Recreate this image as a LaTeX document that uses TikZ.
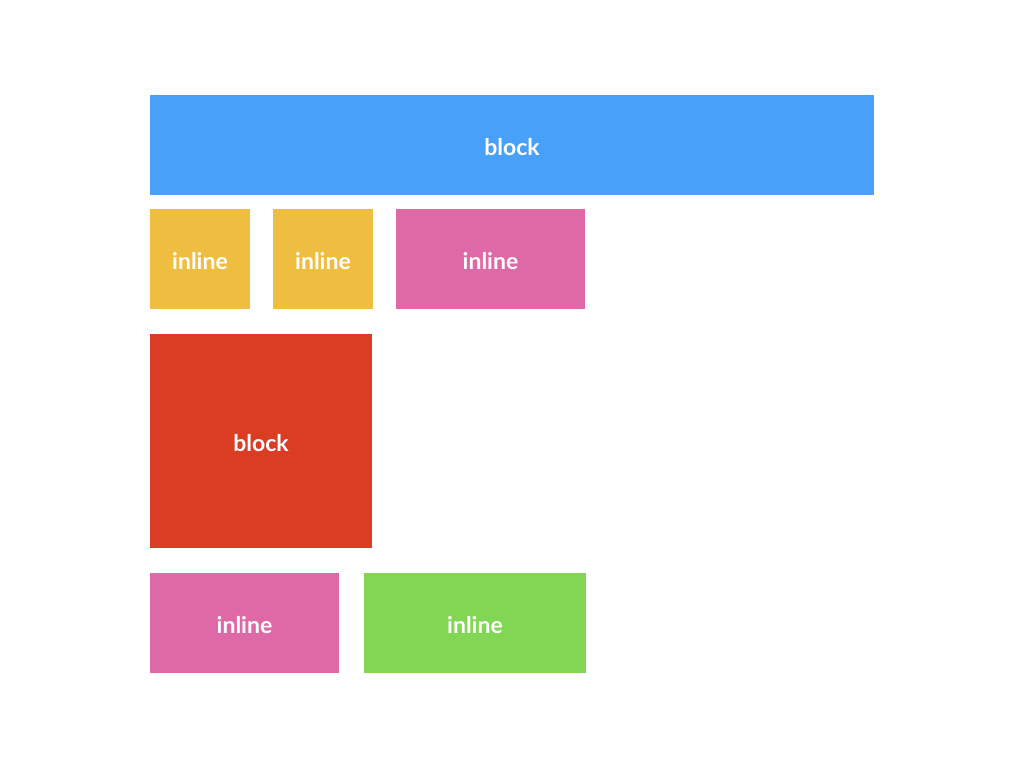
\documentclass[tikz,border=0pt]{standalone}
\usepackage{fontspec}
\setmainfont{Lato}
\definecolor{cblue}{HTML}{48A0F8}
\definecolor{cyellow}{HTML}{EFBD40}
\definecolor{cpink}{HTML}{DF68A6}
\definecolor{cred}{HTML}{DA3C24}
\definecolor{cgreen}{HTML}{81D653}
\begin{document}
\begin{tikzpicture}[x=1pt,y=-1pt,
  boxlbl/.style={text=white,font=\fontsize{23}{27}\selectfont\bfseries}]
\useasboundingbox (0,0) rectangle (1024,768);
\fill[cblue] (150,95) rectangle (874,195);
\node[boxlbl] (b1) at (512,147) {block};
\fill[cyellow] (150,209) rectangle (250,309);
\node[boxlbl] (i1) at (200,261) {inline};
\fill[cyellow] (273,209) rectangle (373,309);
\node[boxlbl] (i2) at (323,261) {inline};
\fill[cpink] (396,209) rectangle (585,309);
\node[boxlbl] (i3) at (490.5,261) {inline};
\fill[cred] (150,334) rectangle (372,548);
\node[boxlbl] (b2) at (261,443) {block};
\fill[cpink] (150,573) rectangle (339,673);
\node[boxlbl] (i4) at (244.5,625) {inline};
\fill[cgreen] (364,573) rectangle (586,673);
\node[boxlbl] (i5) at (475,625) {inline};
\end{tikzpicture}
\end{document}
